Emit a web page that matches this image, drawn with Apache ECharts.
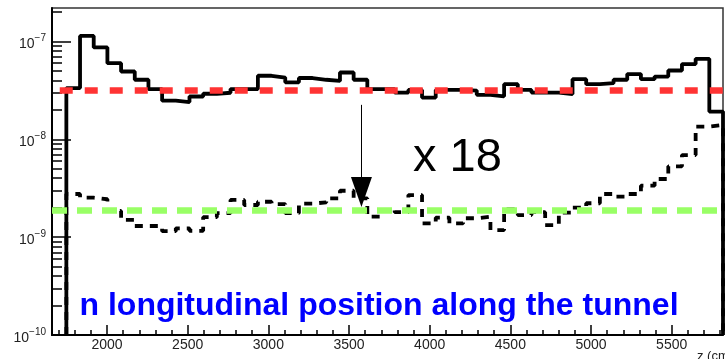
<!DOCTYPE html>
<html><head><meta charset="utf-8">
<script src="https://cdn.jsdelivr.net/npm/echarts@6/dist/echarts.min.js"></script>
<style>html,body{margin:0;padding:0;background:#fff}#c{width:725px;height:359px}</style>
</head><body><div id="c"></div>
<script>
// ---- data ----
const binLow = 1748, binHigh = 5818;           // histogram range (cm)
const solidValues = [3.34e-8,1.14e-7,8.7e-8,6.0e-8,4.93e-8,4.06e-8,3.26e-8,2.48e-8,2.40e-8,2.74e-8,
  2.92e-8,2.99e-8,3.26e-8,3.26e-8,4.46e-8,4.28e-8,3.82e-8,4.23e-8,4.06e-8,3.95e-8,
  4.82e-8,4.06e-8,3.26e-8,3.26e-8,3.0e-8,3.2e-8,2.67e-8,3.2e-8,3.2e-8,3.15e-8,
  2.85e-8,2.75e-8,3.66e-8,3.2e-8,3.0e-8,3.0e-8,2.9e-8,4.12e-8,3.66e-8,3.75e-8,
  4.06e-8,4.64e-8,4.12e-8,4.38e-8,5.05e-8,5.88e-8,6.65e-8,1.92e-8];
const dashedValues = [2.76e-9,2.53e-9,2.44e-9,1.85e-9,1.5e-9,1.3e-9,1.3e-9,1.15e-9,1.23e-9,1.16e-9,
  1.6e-9,1.76e-9,2.4e-9,2.13e-9,2.3e-9,2.18e-9,1.76e-9,2.2e-9,2.27e-9,2.49e-9,
  2.98e-9,2.49e-9,1.62e-9,1.89e-9,1.8e-9,2.69e-9,1.38e-9,1.58e-9,1.38e-9,1.56e-9,
  1.62e-9,1.18e-9,1.92e-9,1.68e-9,1.8e-9,1.33e-9,1.78e-9,2.0e-9,2.22e-9,2.76e-9,
  2.59e-9,2.76e-9,3.36e-9,3.93e-9,5.3e-9,6.9e-9,1.35e-8,1.4e-8];
const xMajorTicks = [2000,2500,3000,3500,4000,4500,5000,5500];
const xMinorTicks = [1700,1800,1900,2100,2200,2300,2400,2600,2700,2800,2900,3100,3200,3300,3400,
  3600,3700,3800,3900,4100,4200,4300,4400,4600,4700,4800,4900,5100,5200,5300,5400,5600,5700,5800];
const yTickExps = [-10,-9,-8,-7];
const redLevel = 3.2e-8;
const greenLevel = 1.87e-9;
const arrowX = 3577, arrowFrom = 2.25e-8, arrowTo = 2.9e-9;
const ratioText = 'x 18';
const captionText = 'n longitudinal position along the tunnel';

// ---- axes ranges ----
const xMin = 1659, xMax = 5818;
const yMin = -10, yMax = -6.658;
const L = Math.log10;

const yMinorTicks = [];
yTickExps.forEach(e => { for (let m = 2; m <= 9; m++) { const v = L(m) + e; if (v <= yMax) yMinorTicks.push(v); } });

function histPath(vals) {
  const w = (binHigh - binLow) / vals.length;
  const pts = [[binLow, yMin]];
  vals.forEach((v, i) => pts.push([binLow + i * w, L(v)]));
  pts.push([binHigh, L(vals[vals.length - 1])]);
  pts.push([binHigh, yMin]);
  return pts;
}

const chart = echarts.init(document.getElementById('c'), null, {renderer: 'canvas'});
const fontFam = 'Liberation Sans, Arial, sans-serif';
chart.setOption({
  animation: false,
  grid: {left: 52, right: 2, top: 8, bottom: 24, show: true, borderColor: '#333', borderWidth: 1.5},
  xAxis: [
    {type: 'value', min: xMin, max: xMax, position: 'bottom', splitLine: {show: false},
     axisLine: {lineStyle: {color: '#000', width: 2}},
     axisTick: {inside: true, length: 10, customValues: xMajorTicks, lineStyle: {color: '#000', width: 1.5}},
     axisLabel: {customValues: xMajorTicks, fontSize: 14, color: '#222', margin: 3, fontFamily: fontFam,
       formatter: v => String(v)}},
    {type: 'value', min: xMin, max: xMax, position: 'bottom', splitLine: {show: false},
     axisLine: {show: false},
     axisTick: {inside: true, length: 5, customValues: xMinorTicks, lineStyle: {color: '#000', width: 1.5}},
     axisLabel: {show: false}}
  ],
  yAxis: [
    {type: 'value', min: yMin, max: yMax, position: 'left', splitLine: {show: false},
     axisLine: {lineStyle: {color: '#000', width: 2}},
     axisTick: {inside: true, length: 19, customValues: yTickExps, lineStyle: {color: '#000', width: 1.5}},
     axisLabel: {customValues: yTickExps, margin: 6, color: '#222',
       formatter: v => '{b|10}{s|\u2212' + Math.abs(Math.round(v)) + '}',
       rich: {b: {fontSize: 14, fontFamily: fontFam, color: '#222', padding: [6, 0, 0, 0]},
              s: {fontSize: 10, fontFamily: fontFam, color: '#222', padding: [0, 0, 6, 0]}}}},
    {type: 'value', min: yMin, max: yMax, position: 'left', splitLine: {show: false},
     axisLine: {show: false},
     axisTick: {inside: true, length: 10, customValues: yMinorTicks, lineStyle: {color: '#000', width: 1.5}},
     axisLabel: {show: false}}
  ],
  series: [
    {type: 'line', name: 'total', step: 'end', showSymbol: false, symbol: 'none', clip: false,
     data: histPath(solidValues), lineStyle: {color: '#000', width: 3.8}, z: 3},
    {type: 'line', name: 'scaled', step: 'end', showSymbol: false, symbol: 'none', clip: false,
     data: histPath(dashedValues), lineStyle: {color: '#000', width: 3.8, type: [8, 7]}, z: 3},
    {type: 'line', name: 'marks', data: [], z: 5,
     markLine: {silent: true, animation: false, label: {show: false}, z: 6,
       data: [
         [{coord: [1707, L(redLevel)], symbol: 'none', lineStyle: {color: '#ff3333', width: 6.5, type: [13, 12]}},
          {coord: [xMax, L(redLevel)], symbol: 'none'}],
         [{coord: [xMin, L(greenLevel)], symbol: 'none', lineStyle: {color: '#99ff66', width: 6.5, type: [15, 10]}},
          {coord: [xMax, L(greenLevel)], symbol: 'none'}],
         [{coord: [arrowX, L(arrowFrom)], symbol: 'none', lineStyle: {color: '#000', width: 1, type: 'solid'}},
          {coord: [arrowX, L(arrowTo)], symbol: 'triangle', symbolSize: [21, 30], itemStyle: {color: '#000'}}]
       ]}}
  ],
  graphic: [
    {type: 'text', x: 413, y: 158.5, z: 10, style: {text: ratioText, font: '47px Liberation Sans, Arial, sans-serif', fill: '#000', align: 'left', verticalAlign: 'middle'}},
    {type: 'text', x: 79.5, y: 306, z: 10, style: {text: captionText, font: 'bold 32px Liberation Sans, Arial, sans-serif', fill: '#0000ff', align: 'left', verticalAlign: 'middle'}},
    {type: 'text', x: 697, y: 350, z: 10, style: {text: 'z (cm)', font: '13px Liberation Sans, Arial, sans-serif', fill: '#222', align: 'left', verticalAlign: 'top'}}
  ]
});
</script></body></html>
